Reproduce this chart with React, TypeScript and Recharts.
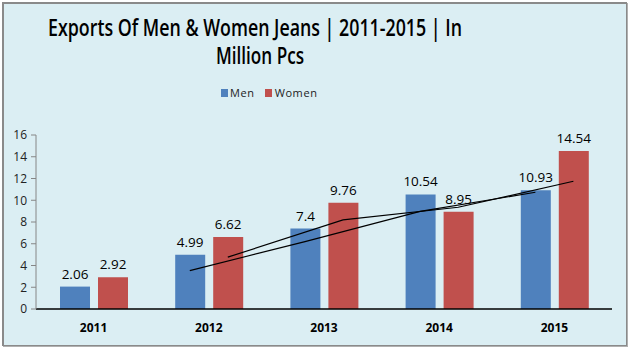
import React from "react";
import {
  ComposedChart,
  Bar,
  Line,
  XAxis,
  YAxis,
  LabelList,
  Legend,
} from "recharts";

// ---- data ----
const years = ["2011", "2012", "2013", "2014", "2015"];
const menValues = [2.06, 4.99, 7.4, 10.54, 10.93];
const womenValues = [2.92, 6.62, 9.76, 8.95, 14.54];
// 2-period moving averages (trendlines), starting at 2012
const menMovingAvg = [3.525, 6.195, 8.97, 10.735];
const womenMovingAvg = [4.77, 8.19, 9.355, 11.745];
const yTicks = [0, 2, 4, 6, 8, 10, 12, 14, 16];

const titleLine1 = "Exports Of Men & Women Jeans | 2011-2015 | In";
const titleLine2 = "Million Pcs";

const MEN = "#4F81BD";
const WOMEN = "#C0504D";
const BG = "#DBEEF3";
const FONT = "'Open Sans', 'Noto Sans', sans-serif";

const W = 629;
const H = 347;
const PLOT_LEFT = 36;
const PLOT_RIGHT = 612;
const BAR_SIZE = 30;
const BAR_GAP = 8;
const BAND = (PLOT_RIGHT - PLOT_LEFT) / years.length;
const SERIES_OFFSET = (BAR_SIZE + BAR_GAP) / 2 / BAND;

const tableData = years.map((y, i) => ({
  year: y,
  men: menValues[i],
  women: womenValues[i],
}));

const menMA = menMovingAvg.map((v, i) => ({
  x: i + 1 + 0.5 - SERIES_OFFSET,
  y: v,
}));
const womenMA = womenMovingAvg.map((v, i) => ({
  x: i + 1 + 0.5 + SERIES_OFFSET,
  y: v,
}));

const LegendContent = () => (
  <div
    style={{
      display: "flex",
      justifyContent: "flex-start",
      fontFamily: FONT,
      fontSize: 11,
      color: "#222",
      letterSpacing: 0.6,
    }}
  >
    <span style={{ display: "flex", alignItems: "center", marginRight: 10 }}>
      <span
        style={{
          width: 7,
          height: 8,
          background: MEN,
          display: "inline-block",
          marginRight: 2,
        }}
      />
      Men
    </span>
    <span style={{ display: "flex", alignItems: "center" }}>
      <span
        style={{
          width: 7,
          height: 8,
          background: WOMEN,
          display: "inline-block",
          marginRight: 3,
        }}
      />
      Women
    </span>
  </div>
);

export default function App() {
  return (
    <div
      style={{
        position: "absolute",
        left: 0,
        top: 0,
        width: W,
        height: H,
        background: "#fff",
      }}
    >
      <div
        style={{
          position: "absolute",
          left: 2,
          top: 2,
          width: 622,
          height: 341,
          background: BG,
          borderLeft: "2px solid #8a8a8a",
          borderTop: "2px solid #8a8a8a",
          borderRight: "1px solid #8a8a8a",
          borderBottom: "1px solid #8a8a8a",
          boxShadow: "1px 1px 0 #b0b0b0",
        }}
      />
      <svg
        width={W}
        height={80}
        style={{ position: "absolute", left: 0, top: 0 }}
      >
        <text
          x={255}
          y={36}
          textAnchor="middle"
          fontFamily={FONT}
          fontWeight={600}
          fontSize={22.5}
          fill="#000"
          textLength={414}
          lengthAdjust="spacingAndGlyphs"
        >
          {titleLine1}
        </text>
        <text
          x={260}
          y={64}
          textAnchor="middle"
          fontFamily={FONT}
          fontWeight={600}
          fontSize={22.5}
          fill="#000"
          textLength={88}
          lengthAdjust="spacingAndGlyphs"
        >
          {titleLine2}
        </text>
      </svg>
      <div style={{ position: "absolute", left: 0, top: 0 }}>
        <ComposedChart
          width={W}
          height={H}
          data={tableData}
          margin={{ top: 120, right: W - PLOT_RIGHT, bottom: 8, left: 0 }}
          barGap={BAR_GAP}
        >
          <XAxis
            xAxisId="cat"
            dataKey="year"
            axisLine={{ stroke: "#000", strokeWidth: 1.5 }}
            tickLine={false}
            height={30}
            tick={{
              fontFamily: FONT,
              fontSize: 12,
              fontWeight: 700,
              fill: "#000",
            }}
            tickMargin={8}
          />
          <XAxis
            xAxisId="num"
            type="number"
            dataKey="x"
            domain={[0, years.length]}
            allowDataOverflow
            hide
          />
          <YAxis
            width={PLOT_LEFT}
            domain={[0, 16]}
            ticks={yTicks}
            interval={0}
            axisLine={{ stroke: "#868686" }}
            tickLine={{ stroke: "#868686" }}
            tickSize={5}
            tickMargin={4}
            tick={{ fontFamily: FONT, fontSize: 12, fill: "#222" }}
          />
          <Legend
            verticalAlign="top"
            content={<LegendContent />}
            wrapperStyle={{ position: "absolute", top: 85, left: 221, width: 120 }}
          />
          <Bar
            xAxisId="cat"
            dataKey="men"
            name="Men"
            fill={MEN}
            barSize={BAR_SIZE}
            isAnimationActive={false}
          >
            <LabelList
              dataKey="men"
              position="top"
              offset={8}
              style={{ fontFamily: FONT, fontSize: 13.5, fill: "#000" }}
            />
          </Bar>
          <Bar
            xAxisId="cat"
            dataKey="women"
            name="Women"
            fill={WOMEN}
            barSize={BAR_SIZE}
            isAnimationActive={false}
          >
            <LabelList
              dataKey="women"
              position="top"
              offset={8}
              style={{ fontFamily: FONT, fontSize: 13.5, fill: "#000" }}
            />
          </Bar>
          <Line
            xAxisId="num"
            data={menMA}
            dataKey="y"
            type="linear"
            stroke="#000"
            strokeWidth={1.2}
            dot={false}
            activeDot={false}
            legendType="none"
            isAnimationActive={false}
          />
          <Line
            xAxisId="num"
            data={womenMA}
            dataKey="y"
            type="linear"
            stroke="#000"
            strokeWidth={1.2}
            dot={false}
            activeDot={false}
            legendType="none"
            isAnimationActive={false}
          />
        </ComposedChart>
      </div>
    </div>
  );
}
